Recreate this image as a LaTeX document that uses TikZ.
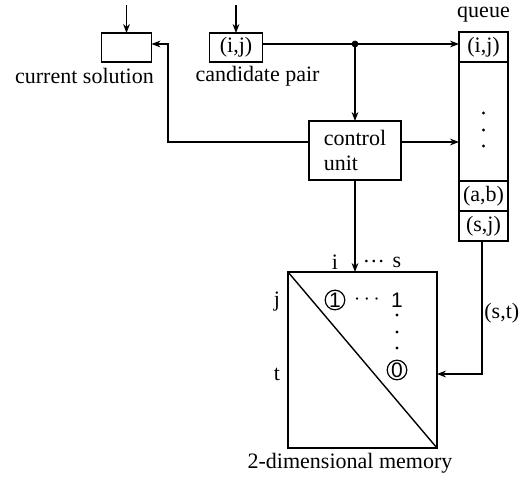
\documentclass[tikz,border=0pt]{standalone}
\usepackage{fontspec}
\setmainfont{Liberation Serif}
\newfontfamily\sfn{Liberation Sans}
\usetikzlibrary{arrows.meta}
\begin{document}
\begin{tikzpicture}[x=0.5pt,y=-0.5pt,
  every node/.style={font=\fontsize{11}{12.5}\selectfont},
  blk/.style={draw, line width=0.7pt, inner sep=0pt, outer sep=0pt},
  lbl/.style={inner sep=0pt},
  con/.style={line width=0.7pt},
  arr/.style={con, -{Stealth[length=4.5pt,width=3.4pt]}},
  circ/.style={draw, circle, line width=0.6pt, inner sep=0pt, minimum size=9.8pt, font=\sfn\fontsize{10.5}{12}\selectfont},
  sfl/.style={inner sep=0pt, font=\sfn\fontsize{10.5}{12}\selectfont},
  vdot/.style={circle, fill, inner sep=0pt, minimum size=1.7pt}]
\useasboundingbox (0,0) rectangle (527,478);
% boxes
\node[blk, minimum width=25pt, minimum height=14.5pt] (cs) at (126.5,47.5) {};
\node[blk, minimum width=26.5pt, minimum height=14.5pt] (cp) at (236,47.5) {(i,j)};
\node[lbl] (csl) at (84.5,76) {current solution};
\node[lbl] (cpl) at (257.5,76) {candidate pair};
\node[blk, minimum width=46pt, minimum height=29.5pt, align=left] (cu) at (355,150.5) {control\\unit};
% queue
\node[lbl] (ql) at (483.5,15) {queue};
\node[blk, minimum width=24.5pt, minimum height=15pt] (q1) at (483.5,47) {(i,j)};
\node[blk, minimum width=24.5pt, minimum height=59.5pt, anchor=north] (qm) at (q1.south) {};
\node[blk, minimum width=24.5pt, minimum height=15pt, anchor=north] (qab) at (qm.south) {(a,b)};
\node[blk, minimum width=24.5pt, minimum height=15pt, anchor=north] (qsj) at (qab.south) {(s,j)};
\node[vdot] (qd1) at (483.5,113) {};
\node[vdot] (qd2) at (483.5,130) {};
\node[vdot] (qd3) at (483.5,146) {};
% memory
\node[blk, minimum width=74.5pt, minimum height=88pt] (mem) at (362.5,360) {};
\draw[con] (mem.north west) -- (mem.south east);
\node[lbl] (mi) at (335,262) {i};
\node[lbl] (mdots) at (374,262) {\dots};
\node[lbl] (ms) at (397,262) {s};
\node[lbl] (mj) at (277,302) {j};
\node[lbl] (mt) at (277,374) {t};
\node[circ] (c1) at (335,300) {1};
\node[sfl] (hd) at (367,300) {$\cdots$};
\node[sfl] (one) at (397,300) {1};
\node[vdot] (vd1) at (397,315) {};
\node[vdot] (vd2) at (397,332) {};
\node[vdot] (vd3) at (397,348) {};
\node[circ] (c0) at (397,370) {0};
\node[lbl] (meml) at (350,463) {2-dimensional memory};
\node[lbl, anchor=west] (stl) at (484,313) {(s,t)};
% connectors
\coordinate (in1) at (126.5,5);
\coordinate (in2) at (236,5);
\draw[arr] (in1) -- (cs.north);
\draw[arr] (in2) -- (cp.north);
\coordinate (jn) at (355,44);
\fill (jn) circle (3.4);
\draw[arr] (cp.east |- jn) -- (jn) -- (q1.west |- jn);
\draw[arr] (jn) -- (cu.north);
\coordinate (cl) at (168,142);
\coordinate (cu1) at (168,44);
\draw[arr] (cu.west |- cl) -- (cl) -- (cu1) -- (cs.east |- cu1);
\draw[arr] (cu.east |- cl) -- (qm.west |- cl);
\draw[arr] (cu.south) -- (cu.south |- mem.north);
\coordinate (qb) at (482,374);
\draw[arr] (qsj.south -| qb) -- (qb) -- (mem.east |- qb);
\end{tikzpicture}
\end{document}
